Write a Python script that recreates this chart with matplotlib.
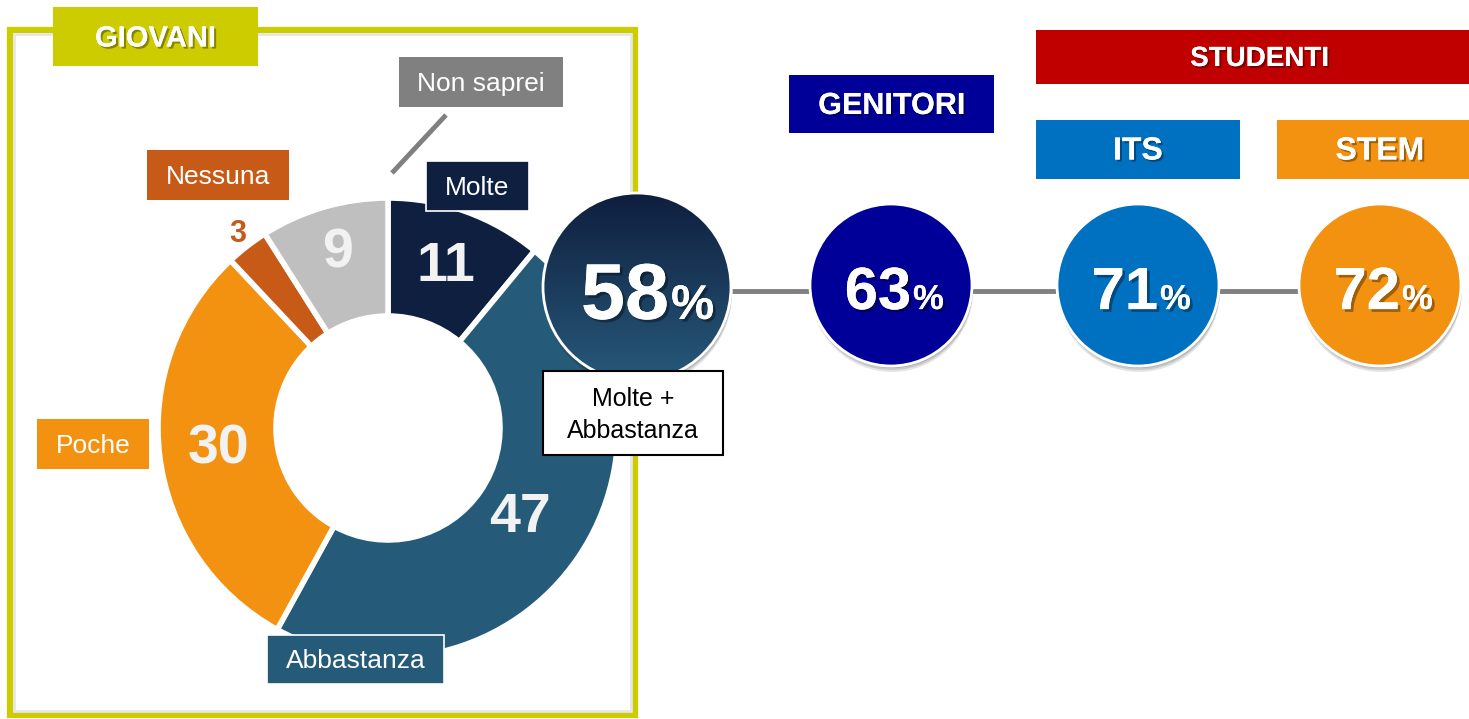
import numpy as np
import matplotlib
matplotlib.use('Agg')
import matplotlib.pyplot as plt
from matplotlib.patches import Rectangle, Circle
import matplotlib.patheffects as pe
from matplotlib.colors import LinearSegmentedColormap

plt.rcParams['font.family'] = ['Liberation Sans', 'DejaVu Sans']

# --- dati: GIOVANI (ciambella) ---
categorie = ['Molte', 'Abbastanza', 'Poche', 'Nessuna', 'Non saprei']
valori = [11, 47, 30, 3, 9]
colori = ['#0E1F3F', '#255A78', '#F39110', '#C85A17', '#BFBFBF']

# --- dati: Molte + Abbastanza per gruppo ---
gruppi = ['GENITORI', 'ITS', 'STEM']
gruppi_val = [63, 71, 72]
gruppi_col = ['#000099', '#0070C0', '#F39110']
giovani_tot = valori[0] + valori[1]

# layout (pixel)
W, H = 1469, 719
cx, cy, R_out, R_in = 388, 428, 230, 112
verde = '#CCCC00'
grigio = '#808080'

fig = plt.figure(figsize=(W / 100, H / 100), dpi=100)
ax = fig.add_axes([0, 0, 1, 1])

# cornice GIOVANI
ax.add_patch(Rectangle((10, 30), 625, 685, fill=False, edgecolor=verde, lw=4.5, zorder=1))
ax.add_patch(Rectangle((14, 34), 617, 677, fill=False, edgecolor='#E6E6E6', lw=2, zorder=1))


def box(x0, y0, x1, y1, fc, txt, size, bold=False, tc='white', ec='none', lw=0,
        shadow=False, z=8):
    ax.add_patch(Rectangle((x0, y0), x1 - x0, y1 - y0, facecolor=fc, edgecolor=ec,
                           lw=lw, zorder=z))
    eff = [pe.withSimplePatchShadow(offset=(1.5, -1.5), shadow_rgbFace='black', alpha=0.35),
           pe.Normal()] if shadow else None
    ax.text((x0 + x1) / 2, (y0 + y1) / 2 + 2, txt, ha='center', va='center', fontsize=size,
            color=tc, fontweight='bold' if bold else 'normal', zorder=z + 1,
            path_effects=eff)


box(53, 7, 258, 66, verde, 'GIOVANI', 21, bold=True, shadow=True)

# ciambella: parte dall'alto in senso orario (asse y invertito)
wedges, _ = ax.pie(valori, colors=colori, startangle=-90, counterclock=True,
                   radius=R_out, center=(cx, cy),
                   wedgeprops=dict(width=R_out - R_in, edgecolor='white', linewidth=4))
for w in wedges:
    w.set_zorder(3)

# etichette numeriche sulle fette
lab_r = [171, 160, 171, 245, 182]
lab_size = [40, 40, 40, 22, 40]
lab_col = ['#F2F2F2', '#F2F2F2', '#F2F2F2', '#C85A17', '#F2F2F2']
for w, v, r, s, c in zip(wedges, valori, lab_r, lab_size, lab_col):
    t = np.deg2rad((w.theta1 + w.theta2) / 2)
    ax.text(cx + r * np.cos(t), cy + r * np.sin(t), str(v), ha='center', va='center',
            fontsize=s, fontweight='bold', color=c, zorder=5)

# etichette categorie
ax.plot([392, 446], [173, 115], color=grigio, lw=3.5, solid_capstyle='butt', zorder=4)
box(399, 57, 563, 107, grigio, 'Non saprei', 19)
box(147, 150, 289, 200, '#C85A17', 'Nessuna', 19)
box(426, 161, 529, 211, '#0E1F3F', 'Molte', 19, ec='white', lw=1.2)
box(37, 419, 149, 469, '#F39110', 'Poche', 19)
box(267, 635, 444, 684, '#255A78', 'Abbastanza', 19, ec='white', lw=1.2)

# linea di collegamento
ax.plot([732, 1300], [291, 291], color=grigio, lw=3.5, zorder=4, solid_capstyle='butt')

num_eff = [pe.withSimplePatchShadow(offset=(2, -2), shadow_rgbFace='black', alpha=0.35),
           pe.Normal()]


def cerchio(x, y, r, val, fc, size, psize, off):
    for k, a in [(6, 0.10), (4, 0.12), (2, 0.15)]:
        ax.add_patch(Circle((x + 1, y + k), r, facecolor='black', alpha=a,
                            edgecolor='none', zorder=5))
    if isinstance(fc, str):
        ax.add_patch(Circle((x, y), r, facecolor=fc, edgecolor='white', lw=2, zorder=6))
    else:
        grad = np.linspace(0, 1, 256).reshape(-1, 1)
        cmap = LinearSegmentedColormap.from_list('g', fc)
        im = ax.imshow(grad, cmap=cmap, extent=(x - r, x + r, y + r, y - r),
                       aspect='auto', zorder=6)
        im.set_clip_path(Circle((x, y), r, transform=ax.transData))
        ax.add_patch(Circle((x, y), r, fill=False, edgecolor='white', lw=2, zorder=7))
    ax.text(x + off, y + size * 0.56, str(val), ha='right', va='baseline',
            fontsize=size, fontweight='bold', color='white', zorder=8,
            path_effects=num_eff)
    ax.text(x + off + 2, y + size * 0.56, '%', ha='left', va='baseline',
            fontsize=psize, fontweight='bold', color='white', zorder=8,
            path_effects=num_eff)


cerchio(637, 287, 94, giovani_tot, ['#0F1E3E', '#27597A'], 57, 35, 32)

gx = [891, 1138, 1380]
for x, v, c in zip(gx, gruppi_val, gruppi_col):
    cerchio(x, 285, 81, v, c, 43, 25, 20)

# box Molte + Abbastanza
ax.add_patch(Rectangle((543, 371), 180, 84, facecolor='white', edgecolor='black',
                       lw=1.5, zorder=9))
ax.text(633, 415, 'Molte +\nAbbastanza', ha='center', va='center', fontsize=18,
        color='black', zorder=10, linespacing=1.45)

# intestazioni
box(789, 75, 994, 133, gruppi_col[0], gruppi[0], 22, bold=True, shadow=True)
box(1036, 30, 1483, 84, '#C00000', 'STUDENTI', 20, bold=True, shadow=True)
box(1036, 120, 1240, 179, gruppi_col[1], gruppi[1], 23, bold=True, shadow=True)
box(1277, 120, 1483, 179, gruppi_col[2], gruppi[2], 23, bold=True, shadow=True)

ax.set_xlim(0, W)
ax.set_ylim(H, 0)
ax.axis('off')

fig.savefig('out.png', dpi=100, facecolor='white')
